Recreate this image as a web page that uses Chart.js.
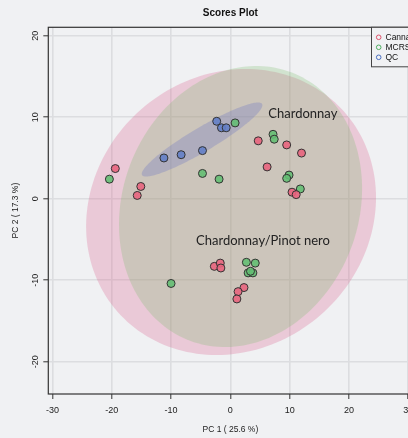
<!DOCTYPE html>
<html><head><meta charset="utf-8">
<script src="https://cdn.jsdelivr.net/npm/chart.js@4/dist/chart.umd.min.js"></script>
<style>
html,body{margin:0;padding:0;background:#f0f1f3;overflow:hidden}
#wrap{width:408px;height:438px;overflow:hidden}
canvas{display:block}
</style></head>
<body><div id="wrap"><canvas id="c" width="440" height="438"></canvas></div>
<script>
// ---- data ----
const groups = ['Canna', 'MCRS', 'QC'];
const cannaPC1 = [4.7, 9.5, 12.0, -19.4, 6.2, -15.1, -15.7, 10.4, 11.1, -2.7, -1.7, -1.6, 2.3, 1.3, 1.1];
const cannaPC2 = [7.1, 6.6, 5.6, 3.7, 3.9, 1.5, 0.4, 0.8, 0.5, -8.3, -7.9, -8.5, -10.9, -11.4, -12.3];
const mcrsPC1 = [0.8, 7.2, 7.4, -20.4, -4.7, -1.9, 9.9, 9.5, 11.8, 2.7, 4.2, 3.0, 3.8, 3.4, -10.0];
const mcrsPC2 = [9.3, 7.9, 7.3, 2.4, 3.1, 2.4, 2.9, 2.5, 1.2, -7.8, -7.9, -9.1, -9.1, -8.9, -10.4];
const qcPC1 = [-2.3, -1.5, -0.7, -4.7, -8.3, -11.2];
const qcPC2 = [9.5, 8.7, 8.7, 5.9, 5.4, 5.0];
// confidence ellipses: centre, and the two semi-axis vectors (PC1, PC2 units)
const ellipseCentre = [[0.12, -1.63], [1.72, -0.96], [-4.77, 7.26]];
const ellipseAxisA = [[19.19, 12.20], [8.52, 16.47], [10.12, 4.36]];
const ellipseAxisB = [[15.14, -12.61], [18.64, -5.10], [1.03, -1.27]];
const xTicks = [-30, -20, -10, 0, 10, 20, 30];
const yTicks = [-20, -10, 0, 10, 20];
const annotations = ['Chardonnay', 'Chardonnay/Pinot nero'];

// ---- styles ----
const BG = '#f0f1f3';
const pointFill = ['rgba(232,100,126,0.9)', 'rgba(100,190,115,0.9)', 'rgba(100,128,198,0.9)'];
const legendStroke = ['#df536b', '#4fae62', '#4a6fc0'];
const ellipseFill = ['rgba(217,90,135,0.26)', 'rgba(125,190,110,0.27)', 'rgba(105,115,195,0.30)'];
const SANS = '"Liberation Sans", Arial, sans-serif';

function pts(xs, ys) { return xs.map((x, i) => ({x: x, y: ys[i]})); }

const bgPlugin = {
  id: 'bg',
  beforeDraw(chart) {
    const c = chart.ctx;
    c.save(); c.fillStyle = BG; c.fillRect(0, 0, chart.width, chart.height); c.restore();
  }
};

const ellipsePlugin = {
  id: 'ellipses',
  beforeDatasetsDraw(chart) {
    const c = chart.ctx, xs = chart.scales.x, ys = chart.scales.y, a = chart.chartArea;
    c.save();
    c.beginPath(); c.rect(a.left, a.top, a.right - a.left, a.bottom - a.top); c.clip();
    for (let g = 0; g < ellipseCentre.length; g++) {
      const [cx, cy] = ellipseCentre[g], [ax, ay] = ellipseAxisA[g], [bx, by] = ellipseAxisB[g];
      c.beginPath();
      for (let k = 0; k <= 180; k++) {
        const t = k / 180 * Math.PI * 2;
        const px = xs.getPixelForValue(cx + ax * Math.cos(t) + bx * Math.sin(t));
        const py = ys.getPixelForValue(cy + ay * Math.cos(t) + by * Math.sin(t));
        if (k === 0) c.moveTo(px, py); else c.lineTo(px, py);
      }
      c.closePath();
      c.fillStyle = ellipseFill[g];
      c.fill();
    }
    c.restore();
  }
};

const overlayPlugin = {
  id: 'overlay',
  afterDatasetsDraw(chart) {
    const c = chart.ctx, xs = chart.scales.x, ys = chart.scales.y;
    c.save();
    c.fillStyle = '#222';
    c.font = '13px Lato, "Open Sans", sans-serif';
    c.textBaseline = 'middle';
    c.textAlign = 'left';
    c.fillText(annotations[0], xs.getPixelForValue(6.4), ys.getPixelForValue(10.4));
    c.fillText(annotations[1], xs.getPixelForValue(-5.78), ys.getPixelForValue(-5.15));
    c.restore();
  },
  afterDraw(chart) {
    const c = chart.ctx, a = chart.chartArea;
    c.save();
    c.strokeStyle = '#333'; c.lineWidth = 1.2;
    c.strokeRect(a.left, a.top, a.right - a.left, a.bottom - a.top);
    c.fillStyle = '#111';
    c.font = 'bold 10px ' + SANS;
    c.textAlign = 'center'; c.textBaseline = 'middle';
    c.fillText('Scores Plot', (a.left + a.right) / 2, 13.5);
    const lx = 371, ly = a.top, lw = 60, lh = 39.5;
    c.fillStyle = BG;
    c.fillRect(lx, ly, lw, lh);
    c.strokeStyle = '#444'; c.lineWidth = 1;
    c.strokeRect(lx + 0.5, ly, lw, lh);
    c.font = '8.5px ' + SANS;
    c.textAlign = 'left';
    for (let g = 0; g < groups.length; g++) {
      const yy = ly + 10 + g * 10;
      c.beginPath(); c.arc(378.7, yy, 2.3, 0, Math.PI * 2);
      c.strokeStyle = legendStroke[g]; c.lineWidth = 1; c.stroke();
      c.fillStyle = '#111';
      c.fillText(groups[g], 385.5, yy + 0.5);
    }
    c.restore();
  }
};

const ds = (label, xs, ys, g) => ({
  label: label, data: pts(xs, ys),
  backgroundColor: pointFill[g], borderColor: '#333', borderWidth: 1,
  pointRadius: 4, pointHoverRadius: 4
});

new Chart(document.getElementById('c'), {
  type: 'scatter',
  data: {datasets: [
    ds(groups[0], cannaPC1, cannaPC2, 0),
    ds(groups[1], mcrsPC1, mcrsPC2, 1),
    ds(groups[2], qcPC1, qcPC2, 2)
  ]},
  options: {
    responsive: false, animation: false, events: [],
    layout: {padding: {left: 0, right: 27.6, top: 27.3, bottom: 0}},
    plugins: {legend: {display: false}, tooltip: {enabled: false}, title: {display: false}},
    scales: {
      x: {
        type: 'linear', min: -30.7, max: 30.7,
        afterBuildTicks: s => { s.ticks = xTicks.map(v => ({value: v})); },
        afterFit: s => { s.height = 44; },
        grid: {color: '#dcdde0', lineWidth: 1.6, tickColor: '#333', tickLength: 5, tickWidth: 1},
        border: {display: false},
        ticks: {font: {family: SANS, size: 9}, color: '#222', padding: 6, maxRotation: 0},
        title: {display: true, text: 'PC 1 ( 25.6 %)', font: {family: SANS, size: 8.5}, color: '#222', padding: {top: 0, bottom: 3.6}}
      },
      y: {
        type: 'linear', min: -23.96, max: 21.03,
        afterBuildTicks: s => { s.ticks = yTicks.map(v => ({value: v})); },
        afterFit: s => { s.width = 48.3; },
        grid: {color: '#dcdde0', lineWidth: 1.6, tickColor: '#333', tickLength: 5, tickWidth: 1},
        border: {display: false},
        ticks: {font: {family: SANS, size: 9}, color: '#222', padding: 1, minRotation: 90, maxRotation: 90, crossAlign: 'center'},
        title: {display: true, text: 'PC 2 ( 17.3 %)', font: {family: SANS, size: 8.5}, color: '#222', padding: {top: 10.9, bottom: 0}}
      }
    }
  },
  plugins: [bgPlugin, ellipsePlugin, overlayPlugin]
});
</script>
</body></html>
